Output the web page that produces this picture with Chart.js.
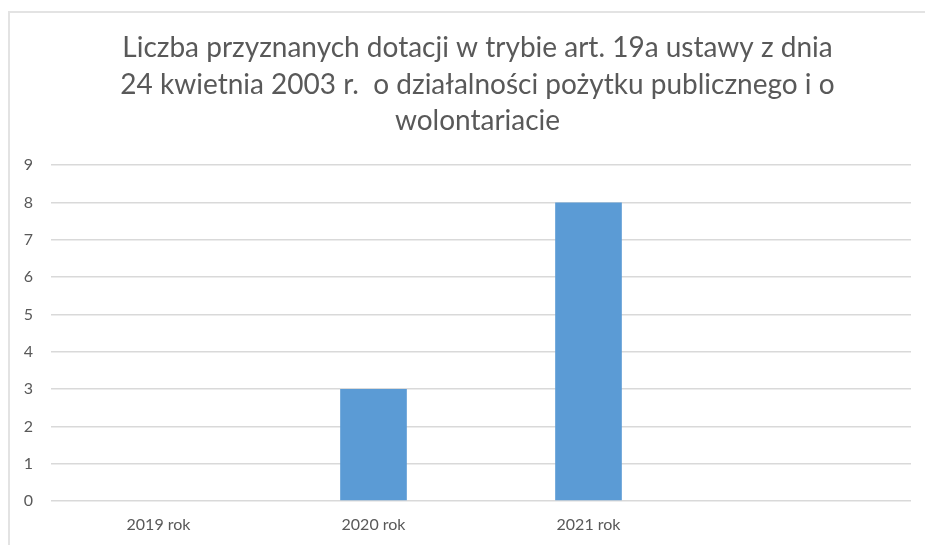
<!DOCTYPE html>
<html>
<head>
<meta charset="utf-8">
<script src="https://cdn.jsdelivr.net/npm/chart.js@4.4.0/dist/chart.umd.min.js"></script>
<style>
  html, body { margin: 0; padding: 0; background: #fff; overflow: hidden; width: 925px; height: 545px; }
  #wrap { position: absolute; left: 0; top: 0; width: 925px; height: 545px; overflow: hidden; }
  #frame { position: absolute; left: 8px; top: 11px; width: 940px; height: 560px;
           border-left: 2px solid #e3e3e3; border-top: 2px solid #e3e3e3; }
  #c { position: absolute; left: 0; top: 0; }
</style>
</head>
<body>
<div id="wrap">
  <div id="frame"></div>
  <canvas id="c" width="955" height="545"></canvas>
</div>
<script>
const titleLines = [
  "Liczba przyznanych dotacji w trybie art. 19a ustawy z dnia",
  "24 kwietnia 2003 r.  o działalności pożytku publicznego i o",
  "wolontariacie"
];
const categories = ["2019 rok", "2020 rok", "2021 rok", ""];
const values = [0, 3, 8, null];
const yTicks = [0, 1, 2, 3, 4, 5, 6, 7, 8, 9];

const FONT = "Lato, 'Open Sans', sans-serif";
const TXT = "#595959";

new Chart(document.getElementById("c"), {
  type: "bar",
  data: {
    labels: categories,
    datasets: [{
      data: values,
      backgroundColor: "#5b9bd5",
      borderWidth: 0,
      categoryPercentage: 1.0,
      barPercentage: 0.31
    }]
  },
  options: {
    responsive: false,
    animation: false,
    layout: { padding: { left: 14, right: 14, top: 0, bottom: 0 } },
    plugins: {
      legend: { display: false },
      tooltip: { enabled: false },
      title: {
        display: true,
        text: titleLines,
        color: TXT,
        font: { family: FONT, size: 28, weight: "normal", lineHeight: 1.3 },
        padding: { top: 30, bottom: 26 }
      }
    },
    scales: {
      x: {
        grid: { display: false, drawTicks: false },
        border: { display: false },
        ticks: { color: TXT, font: { family: FONT, size: 16 }, padding: 14, maxRotation: 0 },
        afterFit: (s) => { s.height = 44; }
      },
      y: {
        min: 0, max: 9,
        afterBuildTicks: (s) => { s.ticks = yTicks.map(v => ({ value: v })); },
        grid: { color: "#d9d9d9", lineWidth: 1.5, drawTicks: false },
        border: { display: false },
        ticks: { color: TXT, font: { family: FONT, size: 16 }, padding: 18 },
        afterFit: (s) => { s.width = 37; }
      },
      yR: {
        position: "right",
        display: true,
        min: 0, max: 9,
        grid: { display: false, drawTicks: false },
        border: { display: false },
        ticks: { display: false },
        afterFit: (s) => { s.width = 30; }
      }
    }
  }
});
</script>
</body>
</html>
